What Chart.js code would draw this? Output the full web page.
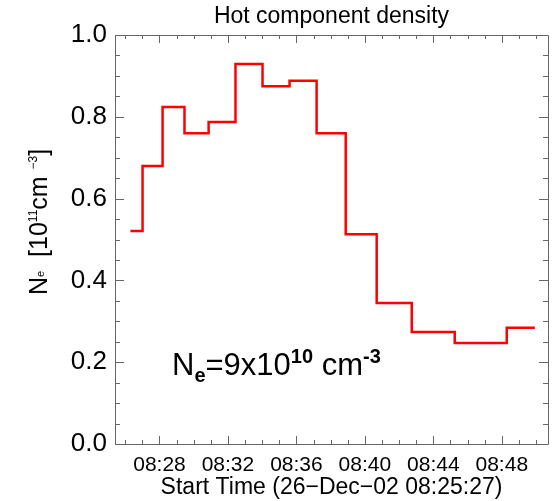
<!DOCTYPE html>
<html>
<head>
<meta charset="utf-8">
<script src="https://cdn.jsdelivr.net/npm/chart.js@4/dist/chart.umd.min.js"></script>
<style>
  html, body { margin: 0; padding: 0; background: #fff; }
  #wrap { position: relative; width: 560px; height: 501px; overflow: hidden; }
  #c { position: absolute; left: 0; top: 0; }
  .ov { position: absolute; font-family: "Liberation Sans", Arial, sans-serif; color: #000; white-space: nowrap; }
  .ov sub, .ov sup { line-height: 0; }
  #ytitle { font-size: 25px; line-height: 25px; transform-origin: 0 0; }
  #ytitle sub { font-size: 11px; vertical-align: 3px; }
  #ytitle sup { font-size: 12px; vertical-align: 10px; }
  #note { left: 172px; top: 350px; font-size: 31px; line-height: 30px; }
  #note sub { font-size: 20px; vertical-align: -7px; font-weight: bold; }
  #note sup { font-size: 20px; vertical-align: 12px; font-weight: bold; }
</style>
</head>
<body>
<div id="wrap">
  <canvas id="c" width="560" height="501"></canvas>
  <div id="ytitle" class="ov">N<sub>e</sub>&nbsp; [10<sup>11</sup>cm <sup>&minus;3</sup>]</div>
  <div id="note" class="ov">N<sub>e</sub>=9x10<sup>10</sup> cm<sup>-3</sup></div>
</div>
<script>
// ---- data (minutes after 08:00) ----
const chartTitle = 'Hot component density';
const xAxisTitle = 'Start Time (26\u2212Dec\u221202 08:25:27)';
const stepStartMinutes = [26.30, 27.01, 28.18, 29.46, 30.87, 32.44, 34.02, 35.60, 37.18, 38.88, 40.69, 42.74, 45.25, 48.29];
const stepEndMinute = 49.93;
const densityValues = [0.521, 0.680, 0.824, 0.760, 0.787, 0.929, 0.875, 0.888, 0.760, 0.513, 0.345, 0.274, 0.247, 0.284];
const xTickValues = [28, 32, 36, 40, 44, 48];
const xTickLabels = ['08:28', '08:32', '08:36', '08:40', '08:44', '08:48'];
const yTickValues = [0.0, 0.2, 0.4, 0.6, 0.8, 1.0];
const yTickLabels = ['0.0', '0.2', '0.4', '0.6', '0.8', '1.0'];

const points = stepStartMinutes.map((t, i) => ({ x: t, y: densityValues[i] }));
points.push({ x: stepEndMinute, y: densityValues[densityValues.length - 1] });

const FONT = '"Liberation Sans", Arial, sans-serif';

const frameTicks = {
  id: 'frameTicks',
  afterDatasetsDraw(chart) {
    const { ctx, chartArea: a, scales: { x, y } } = chart;
    ctx.save();
    ctx.strokeStyle = '#666';
    ctx.lineWidth = 1;
    ctx.beginPath();
    ctx.rect(Math.round(a.left) + 0.5, Math.round(a.top) + 0.5, Math.round(a.right - a.left), Math.round(a.bottom - a.top));
    ctx.stroke();
    ctx.beginPath();
    for (let m = Math.ceil(x.min); m <= Math.floor(x.max); m++) {
      const px = Math.round(x.getPixelForValue(m)) + 0.5;
      const len = (m % 4 === 0) ? 8 : 4;
      ctx.moveTo(px, a.bottom); ctx.lineTo(px, a.bottom - len);
      ctx.moveTo(px, a.top); ctx.lineTo(px, a.top + len);
    }
    for (let k = 0; k <= 20; k++) {
      const v = k * 0.05;
      const py = Math.round(y.getPixelForValue(v)) + 0.5;
      const len = (k % 4 === 0) ? 9 : 5;
      ctx.moveTo(a.left, py); ctx.lineTo(a.left + len, py);
      ctx.moveTo(a.right, py); ctx.lineTo(a.right - len, py);
    }
    ctx.stroke();
    ctx.restore();
  }
};

const chart = new Chart(document.getElementById('c'), {
  type: 'line',
  data: {
    datasets: [{
      data: points,
      borderColor: '#ff0000',
      borderWidth: 2.5,
      pointRadius: 0,
      fill: false,
      stepped: 'before',
      tension: 0
    }]
  },
  options: {
    responsive: false,
    animation: false,
    devicePixelRatio: 1,
    layout: { padding: { left: 0, right: 12, top: 0, bottom: 0 } },
    plugins: {
      legend: { display: false },
      tooltip: { enabled: false },
      title: {
        display: true,
        fullSize: false,
        text: chartTitle,
        color: '#000',
        font: { family: FONT, size: 23, weight: 'normal' },
        padding: { top: 3, bottom: 4.4 }
      }
    },
    scales: {
      x: {
        type: 'linear',
        min: 25.4,
        max: 50.7,
        grid: { display: false, drawTicks: false },
        border: { display: false },
        afterFit(s) { s.height = 57; },
        afterBuildTicks(s) { s.ticks = xTickValues.map(v => ({ value: v })); },
        ticks: {
          autoSkip: false,
          maxRotation: 0,
          padding: 9,
          color: '#000',
          font: { family: FONT, size: 21 },
          callback: (v) => { const i = xTickValues.indexOf(v); return i >= 0 ? xTickLabels[i] : ''; }
        },
        title: {
          display: true,
          text: xAxisTitle,
          color: '#000',
          font: { family: FONT, size: 23 },
          padding: { top: 0, bottom: 0 }
        }
      },
      y: {
        type: 'linear',
        min: 0,
        max: 1,
        grid: { display: false, drawTicks: false },
        border: { display: false },
        afterFit(s) { s.width = 115; },
        afterBuildTicks(s) { s.ticks = yTickValues.map(v => ({ value: v })); },
        ticks: {
          padding: 8,
          color: '#000',
          font: { family: FONT, size: 26 },
          callback: (v) => { const i = yTickValues.findIndex(t => Math.abs(t - v) < 1e-9); return i >= 0 ? yTickLabels[i] : ''; }
        }
      }
    }
  },
  plugins: [frameTicks]
});

// place the rotated y-axis title centred at (cx, cy)
const yt = document.getElementById('ytitle');
const w = yt.offsetWidth, h = yt.offsetHeight;
const cx = 38, cy = 222;
yt.style.left = (cx - h / 2) + 'px';
yt.style.top = (cy + w / 2) + 'px';
yt.style.transform = 'rotate(-90deg)';
</script>
</body>
</html>
